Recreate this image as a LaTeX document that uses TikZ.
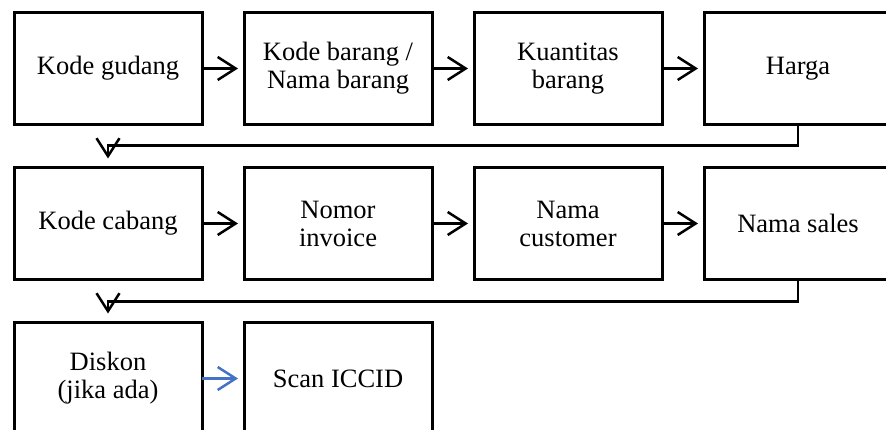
\documentclass[tikz,border=0pt]{standalone}
\usepackage{fontspec}
\setmainfont{Liberation Serif}
\usetikzlibrary{arrows.meta,positioning}

\definecolor{flowblue}{RGB}{68,114,196}

\begin{document}
\begin{tikzpicture}[x=1pt,y=-1pt,
    box/.style={draw,line width=3pt,minimum width=188pt,minimum height=112pt,
      outer sep=0pt,align=center,font=\fontsize{26.5}{28}\selectfont},
    flow/.style={line width=2.5pt,-{Straight Barb[length=18pt,width=23pt]}},
    node distance=43pt and 42pt]
  \clip (0,0) rectangle (886,430);
  % Row 1
  \node[box] (gudang) at (108,68.5) {Kode gudang};
  \node[box,right=of gudang] (barang) {Kode barang /\\Nama barang};
  \node[box,right=of barang] (kuantitas) {Kuantitas\\barang};
  \node[box,right=of kuantitas] (harga) {Harga};
  % Row 2
  \node[box,below=of gudang] (cabang) {Kode cabang};
  \node[box,right=of cabang] (invoice) {Nomor\\invoice};
  \node[box,right=of invoice] (customer) {Nama\\customer};
  \node[box,right=of customer] (sales) {Nama sales};
  % Row 3
  \node[box,below=of cabang] (diskon) {Diskon\\(jika ada)};
  \node[box,right=of diskon] (iccid) {Scan ICCID};

  % Arrows in a row
  \foreach \a/\b in {gudang/barang,barang/kuantitas,kuantitas/harga,
                     cabang/invoice,invoice/customer,customer/sales}
      {
          \draw[flow,shorten >=6pt] (\a) -- (\b);
      }
  \draw[flow,flowblue,shorten >=6pt] (diskon) -- (iccid);

  % Arrows to the next row
  \draw[flow,shorten >=9pt] (harga.south) -- ++(0,21) -| (cabang.north);
  \draw[flow,shorten >=9pt] (sales.south) -- ++(0,22) -| (diskon.north);
\end{tikzpicture}
\end{document}
